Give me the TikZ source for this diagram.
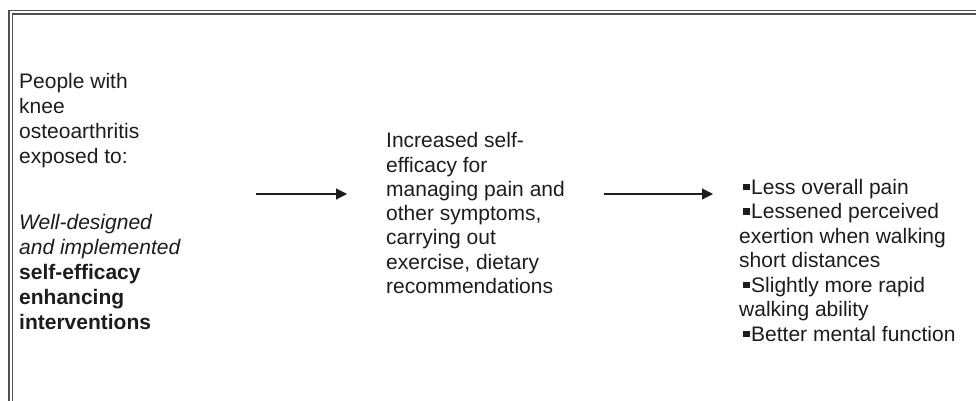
\documentclass[tikz,border=0pt]{standalone}
\usepackage{fontspec}
\setmainfont{Liberation Sans}
\usetikzlibrary{arrows.meta}
\definecolor{ink}{HTML}{1E1C1D}
\definecolor{framec}{HTML}{505050}
\newcommand\bsq{\hspace*{4pt}\rule[4pt]{7pt}{6.5pt}\hspace{1pt}}
\begin{document}
\begin{tikzpicture}[x=1pt,y=-1pt,
  txt/.style={inner sep=0pt, anchor=base west, align=left, text=ink},
  conn/.style={draw=ink, line width=1.2pt, -{Triangle[length=11pt,width=11pt]}},
  border/.style={draw=framec}]
\useasboundingbox (0,0) rectangle (976,401);
\fill[white] (0,0) rectangle (976,401);
\draw[border, line width=1.3pt] (9,401) -- (9,10.5) -- (976,10.5);
\draw[border, line width=1.6pt] (12.5,401) -- (12.5,13.8) -- (976,13.8);
% base anchor of a multi-line node = baseline of its last line
\node[txt, font=\fontsize{21}{25}\selectfont] (src) at (19,329)
  {People with\\knee\\osteoarthritis\\exposed to:\\[41pt]%
   \textit{Well-designed}\\\textit{and implemented}\\%
   \textbf{self-efficacy}\\\textbf{enhancing}\\\textbf{interventions}};
\node[txt, font=\fontsize{21}{24.3}\selectfont] (mid) at (386,293.5)
  {Increased self-\\efficacy for\\managing pain and\\other symptoms,\\carrying out\\exercise, dietary\\recommendations};
\node[txt, font=\fontsize{21}{24.5}\selectfont] (out) at (739,341)
  {\bsq Less overall pain\\\bsq Lessened perceived\\exertion when walking\\short distances\\%
   \bsq Slightly more rapid\\walking ability\\\bsq Better mental function};
\coordinate (a1s) at (256,194);
\coordinate (a1e) at (347,194);
\coordinate (a2s) at (604,194);
\coordinate (a2e) at (713,194);
\draw[conn] (a1s) -- (a1e);
\draw[conn] (a2s) -- (a2e);
\end{tikzpicture}
\end{document}
